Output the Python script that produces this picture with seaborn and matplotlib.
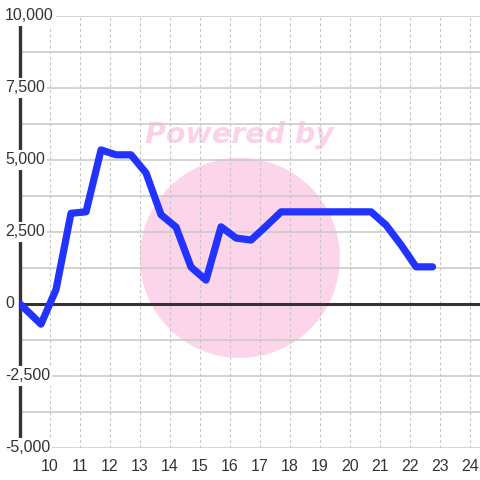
import pandas as pd
import numpy as np
import matplotlib
matplotlib.use("Agg")
import matplotlib.pyplot as plt
import seaborn as sns
from matplotlib.patches import Ellipse

# values
hours = [9.0, 9.7, 10.2, 10.7, 11.2, 11.7, 12.2, 12.7, 13.2, 13.7, 14.2, 14.7,
         15.2, 15.7, 16.2, 16.7, 17.2, 17.7, 18.2, 18.7, 19.2, 19.7, 20.2, 20.7,
         21.2, 21.7, 22.2, 22.75]
values = [0, -700, 500, 3150, 3200, 5350, 5180, 5180, 4550, 3100, 2670, 1280,
          830, 2680, 2290, 2220, 2700, 3200, 3200, 3200, 3200, 3200, 3200, 3200,
          2740, 2050, 1290, 1290]
y_ticks = [-5000, -2500, 0, 2500, 5000, 7500, 10000]
x_ticks = list(range(10, 25))

df = pd.DataFrame({"hour": hours, "value": values})

sns.set_theme(style="white")
plt.rcParams["font.family"] = ["Liberation Sans", "DejaVu Sans"]

fig = plt.figure(figsize=(4.8, 4.8), dpi=100)
ax = fig.add_axes([20 / 480, 32 / 480, 460 / 480, 432 / 480])
ax.set_facecolor("white")

# watermark circle + text
ax.add_patch(Ellipse((0.478, 0.44), 200 / 460, 200 / 432, transform=ax.transAxes,
                     facecolor="#fcd5ea", edgecolor="none", zorder=0.1))
ax.text(0.478, 0.725, "Powered by", transform=ax.transAxes, ha="center", va="center",
        fontsize=20.5, fontweight="bold", fontstyle="italic", color="#fcd2e8",
        family=["DejaVu Sans"], zorder=0.2)

ax.set_xlim(9.0, 24.33)
ax.set_ylim(-5000, 10000)

# grid
ax.set_axisbelow(True)
ax.set_yticks(np.arange(-5000, 10001, 1250))
ax.set_xticks(x_ticks)
ax.yaxis.grid(True, color="#c8c8c8", linewidth=1.1, linestyle="-")
ax.xaxis.grid(True, color="#c4c4c4", linewidth=0.8, linestyle=(0, (2.5, 2.5)))
ax.set_yticklabels([])
ax.set_xticklabels([str(v) for v in x_ticks], color="#333333", fontsize=11.5)
ax.tick_params(axis="both", length=0)
ax.tick_params(axis="x", pad=8)

for s in ["top", "right", "bottom"]:
    ax.spines[s].set_visible(False)
ax.spines["left"].set_color("#333333")
ax.spines["left"].set_linewidth(2.4)
ax.spines["left"].set_zorder(2)

ax.axhline(0, color="#333333", linewidth=2.2, zorder=2)

for v in y_ticks:
    ax.text(-15 / 460, v, f"{v:,}", transform=ax.get_yaxis_transform(),
            ha="left", va="center", fontsize=11.5, color="#333333", clip_on=False,
            bbox=dict(facecolor="white", edgecolor="none", pad=1.5), zorder=5)

sns.lineplot(data=df, x="hour", y="value", ax=ax, color="#2233ff", linewidth=5.2,
             zorder=4)
ax.set_xlabel("")
ax.set_ylabel("")

fig.savefig("out.png", dpi=100, facecolor="white")
